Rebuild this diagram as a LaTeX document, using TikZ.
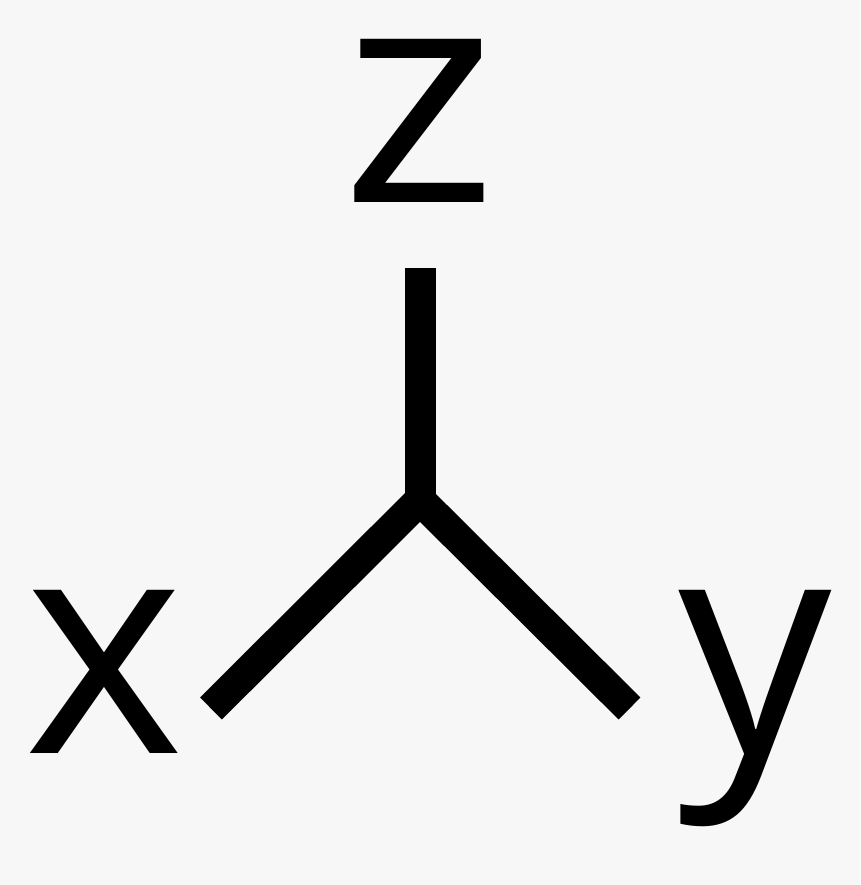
\documentclass[tikz,border=0pt]{standalone}
\usepackage{fontspec}
\setmainfont{Open Sans}
\definecolor{bgcol}{RGB}{247,247,247}
\tikzset{
  axisline/.style={line width=31pt, line cap=butt, line join=miter, black},
  axislabel/.style={inner sep=0pt, anchor=base, text height=165pt, text depth=0pt, font=\fontsize{305}{305}\selectfont}
}
\begin{document}
\begin{tikzpicture}[x=1pt,y=-1pt]
  \fill[bgcol] (0,0) rectangle (860,885);
  \useasboundingbox (0,0) rectangle (860,885);
  \coordinate (o) at (420,500);
  \coordinate (ztip) at (420,268);
  \coordinate (xtip) at (211,708.5);
  \coordinate (ytip) at (629.5,708.5);
  \draw[axisline] (ztip) -- (o);
  \draw[axisline] (xtip) -- (o) -- (ytip);
  \node[axislabel] (zl) at (419,203) {\scalebox{1.09}[1]{z}};
  \node[axislabel] (xl) at (104,753) {x};
  \node[axislabel] (yl) at (755,753) {y};
\end{tikzpicture}
\end{document}
